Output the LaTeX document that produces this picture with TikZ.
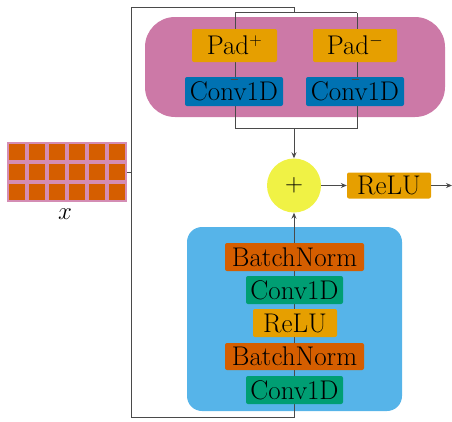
\documentclass[tikz,border=0pt]{standalone}
\usetikzlibrary{arrows.meta,positioning}
\definecolor{cpink}{HTML}{CC79A7}
\definecolor{corange}{HTML}{E69F00}
\definecolor{cblue}{HTML}{0072B2}
\definecolor{csky}{HTML}{56B4E9}
\definecolor{cverm}{HTML}{D55E00}
\definecolor{cgreen}{HTML}{009E73}
\definecolor{cyellow}{HTML}{F0F245}
\definecolor{cline}{HTML}{4A4A4A}
\begin{document}
\begin{tikzpicture}[x=1pt,y=-1pt,
  lbl/.style={font=\fontsize{27}{27}\selectfont},
  blk/.style={lbl,rounded corners=2pt,inner sep=0pt,minimum height=28pt},
  conn/.style={draw=cline,line width=0.9pt},
  arr/.style={conn,-{Stealth[length=6pt,width=5pt]}}]
\useasboundingbox (0,0) rectangle (452,421);
% backgrounds
\path[fill=cpink,rounded corners=30pt] (145,17) rectangle (445,117);
\path[fill=csky,rounded corners=15pt] (187,227) rectangle (402,411);
% tensor
\fill[cpink!85!white] (7,142) rectangle (127,202);
\foreach \i in {0,...,5}{\foreach \j in {0,...,2}{
  \fill[cverm] (7+\i*20+1.8,142+\j*20+1.8) rectangle ++(16.4,16.4);}}
\node[font=\fontsize{30}{30}\selectfont] (xl) at (65,214) {$x$};
% coordinates
\coordinate (tens) at (127,172);
\coordinate (split) at (131,172);
\coordinate (tl) at (131,7);
\coordinate (tr) at (294,7);
\coordinate (tm) at (294,12.7);
\coordinate (ta) at (235,12.7);
\coordinate (tb) at (357,12.7);
\coordinate (ba) at (235,128);
\coordinate (bb) at (357,128);
\coordinate (bm) at (294,128);
\coordinate (bl) at (131,417);
\coordinate (br) at (294,417);
\coordinate (out) at (452,185.5);
% nodes
\node[circle,fill=cyellow,minimum size=54pt,inner sep=0pt,font=\fontsize{32}{32}\selectfont] (plus) at (294,185.5) {$+$};
% connectors
\draw[conn] (tens) -- (split);
\draw[conn] (bl) -- (tl) -- (tr) -- (tm);
\draw[conn] (ta) -- (tb);
\draw[conn] (ta) -- (ba) -- (bb) -- (tb);
\draw[arr] (bm) -- (plus.north);
\draw[arr] (bl) -- (br) -- (plus.south);
% blocks
\node[blk,fill=corange,minimum width=85pt,minimum height=33pt] (padp) at (234.5,45.5) {Pad$^+$};
\node[blk,fill=corange,minimum width=84pt,minimum height=33pt] (padm) at (355,45.5) {Pad$^-$};
\node[blk,fill=cblue,minimum width=98pt,minimum height=29pt] (cl) at (234,91.5) {Conv1D};
\node[blk,fill=cblue,minimum width=98pt,minimum height=29pt] (cr) at (355,91.5) {Conv1D};
\draw[cline,line width=0.9pt] ([xshift=-3.5pt,yshift=-3pt]cl.north) -- ++(7,0);
\draw[cline,line width=0.9pt] ([xshift=-3.5pt,yshift=-3pt]cr.north) -- ++(7,0);
\node[blk,fill=corange,minimum width=84pt,minimum height=26pt] (relu) at (389,185.5) {ReLU};
\draw[arr] (plus.east) -- (relu.west);
\draw[arr] (relu.east) -- (out);
\node[blk,fill=cverm,minimum width=139pt] (bn1) at (294.5,257) {BatchNorm};
\node[blk,fill=cgreen,minimum width=97pt] (c1) at (294.5,290) {Conv1D};
\node[blk,fill=corange,minimum width=84pt] (r2) at (295,323) {ReLU};
\node[blk,fill=cverm,minimum width=139pt,minimum height=27pt] (bn2) at (294.5,356.5) {BatchNorm};
\node[blk,fill=cgreen,minimum width=97pt] (c2) at (294.5,390) {Conv1D};
\end{tikzpicture}
\end{document}
